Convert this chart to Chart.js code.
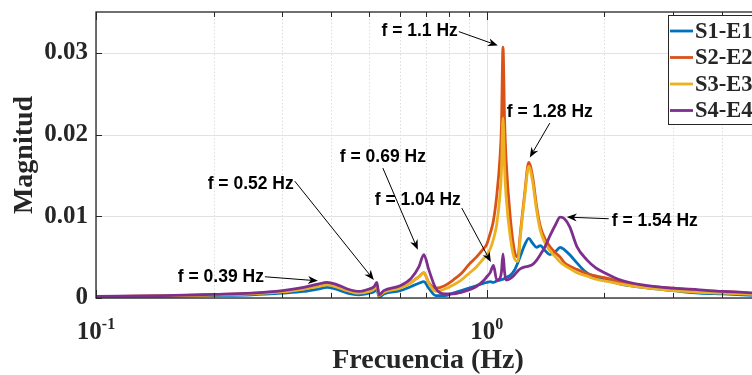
<!DOCTYPE html>
<html>
<head>
<meta charset="utf-8">
<script src="https://cdn.jsdelivr.net/npm/chart.js@4"></script>
<style>
  html, body { margin: 0; padding: 0; background: #fff; overflow: hidden; }
</style>
</head>
<body>
<canvas id="chart" width="770" height="375"></canvas>
<script>
// Frequency axis (Hz) shared by the four responses
const freq = [0.1, 0.15, 0.2, 0.25, 0.3, 0.34, 0.37, 0.39, 0.41, 0.44,
  0.47, 0.5, 0.515, 0.523, 0.53, 0.545, 0.6, 0.64, 0.67, 0.69,
  0.71, 0.74, 0.78, 0.82, 0.86, 0.9, 0.94, 0.98, 1.0, 1.02,
  1.04, 1.06, 1.08, 1.09, 1.1, 1.11, 1.12, 1.15, 1.18, 1.2, 1.22, 1.25,
  1.28, 1.31, 1.34, 1.37, 1.41, 1.45, 1.5, 1.54, 1.58, 1.63,
  1.7, 1.8, 1.9, 2.0, 2.2, 2.5, 3.0, 3.5, 4.0, 5.0];

const s1e1 = [0.00015, 0.0002, 0.0003, 0.0004, 0.0006, 0.0008, 0.0011, 0.0013, 0.0011, 0.0006,
  0.0004, 0.0006, 0.0008, 0.0011, 0.0001, 0.0005, 0.0009, 0.0014, 0.0018, 0.002,
  0.0012, 0.0003, 0.0003, 0.0006, 0.0009, 0.0012, 0.0015, 0.0018, 0.0019, 0.002,
  0.0019, 0.0021, 0.0022, 0.00225, 0.0023, 0.0024, 0.0025, 0.0028, 0.0035, 0.0043, 0.0052, 0.0065,
  0.0073, 0.0067, 0.0062, 0.0064, 0.0058, 0.0053, 0.0057, 0.0062, 0.0059, 0.0053,
  0.0043, 0.0031, 0.0026, 0.0023, 0.0017, 0.0013, 0.0009, 0.0006, 0.0005, 0.0003];

const s2e2 = [0.00018, 0.00026, 0.0004, 0.00055, 0.0008, 0.0011, 0.0015, 0.0017, 0.0015, 0.0009,
  0.0007, 0.0009, 0.0012, 0.0016, 0.0003, 0.0008, 0.0013, 0.0019, 0.0026, 0.0031,
  0.0019, 0.0012, 0.0015, 0.0022, 0.003, 0.0041, 0.005, 0.006, 0.0066, 0.0079,
  0.0095, 0.0125, 0.017, 0.021, 0.0307, 0.022, 0.017, 0.0095, 0.0055, 0.005, 0.0082, 0.0128,
  0.0166, 0.0148, 0.0113, 0.0088, 0.0072, 0.0063, 0.0055, 0.005, 0.0043, 0.0039,
  0.0035, 0.003, 0.0027, 0.0025, 0.002, 0.0015, 0.0012, 0.0009, 0.0008, 0.0005];

const s3e3 = [0.00017, 0.00025, 0.00038, 0.0005, 0.00075, 0.0011, 0.0014, 0.0016, 0.0014, 0.0009,
  0.0006, 0.0008, 0.0011, 0.0015, 0.0003, 0.0007, 0.0012, 0.0019, 0.0026, 0.0031,
  0.0018, 0.0008, 0.0011, 0.0016, 0.0022, 0.003, 0.0038, 0.0048, 0.0053, 0.006,
  0.0072, 0.009, 0.0125, 0.0155, 0.022, 0.016, 0.0125, 0.0072, 0.0047, 0.0045, 0.0078, 0.0124,
  0.0161, 0.0142, 0.0108, 0.0083, 0.0067, 0.0058, 0.005, 0.0044, 0.004, 0.0036,
  0.0031, 0.0027, 0.0023, 0.0021, 0.0017, 0.0013, 0.0009, 0.0007, 0.0006, 0.0004];

const s4e4 = [0.0002, 0.0003, 0.00045, 0.0006, 0.0009, 0.0013, 0.0017, 0.0019, 0.0017, 0.0011,
  0.0008, 0.0011, 0.0014, 0.0019, 0.0004, 0.0009, 0.0015, 0.0024, 0.0038, 0.0053,
  0.0035, 0.0012, 0.0005, 0.0005, 0.0007, 0.001, 0.0014, 0.0021, 0.0026, 0.0031,
  0.004, 0.0022, 0.0024, 0.0032, 0.0054, 0.0032, 0.0022, 0.0024, 0.0029, 0.0033, 0.0036, 0.0038,
  0.0039, 0.0041, 0.0046, 0.0053, 0.0063, 0.0076, 0.009, 0.0099, 0.0097, 0.0087,
  0.0063, 0.0047, 0.0037, 0.0031, 0.0022, 0.0016, 0.0012, 0.001, 0.0008, 0.0006];

const seriesNames = ['S1-E1', 'S2-E2', 'S3-E3', 'S4-E4'];
const seriesColors = ['#0072BD', '#D95319', '#EDB120', '#7E2F8E'];

const yTicks = [0, 0.01, 0.02, 0.03];
const xMajor = [0.1, 1];
const xMinor = [0.2, 0.3, 0.4, 0.5, 0.6, 0.7, 0.8, 0.9, 2, 3, 4, 5];

// Peak callouts: arrow tail and head in data units, text side relative to the tail
const callouts = [
  { text: 'f = 0.39 Hz', tail: [0.2705, 0.0026], head: [0.3697, 0.0021], side: 'left', dy: 0 },
  { text: 'f = 0.52 Hz', tail: [0.3225, 0.0143], head: [0.5140, 0.0022], side: 'left', dy: 3 },
  { text: 'f = 0.69 Hz', tail: [0.5420, 0.0159], head: [0.6660, 0.0059], side: 'above', dy: 0 },
  { text: 'f = 1.04 Hz', tail: [0.8630, 0.0110], head: [1.0240, 0.0044], side: 'left', dy: -8 },
  { text: 'f = 1.1 Hz',  tail: [0.8480, 0.0326], head: [1.0670, 0.0309], side: 'left', dy: 0 },
  { text: 'f = 1.28 Hz', tail: [1.4490, 0.0214], head: [1.2880, 0.0172], side: 'above', dy: 0 },
  { text: 'f = 1.54 Hz', tail: [2.0510, 0.0097], head: [1.6020, 0.0099], side: 'right', dy: 2 }
];

const serif = '"Liberation Serif", "Times New Roman", serif';
const sans = '"Liberation Sans", Arial, sans-serif';
const axisColor = '#262626';

function seg(ctx, x1, y1, x2, y2) {
  ctx.beginPath();
  ctx.moveTo(x1, y1);
  ctx.lineTo(x2, y2);
  ctx.stroke();
}

function arrow(ctx, x1, y1, x2, y2) {
  const ang = Math.atan2(y2 - y1, x2 - x1);
  const L = 10, W = 4, notch = 7;
  const cos = Math.cos(ang), sin = Math.sin(ang);
  seg(ctx, x1, y1, x2 - notch * cos, y2 - notch * sin);
  ctx.beginPath();
  ctx.moveTo(x2, y2);
  ctx.lineTo(x2 - L * cos - W * sin, y2 - L * sin + W * cos);
  ctx.lineTo(x2 - notch * cos, y2 - notch * sin);
  ctx.lineTo(x2 - L * cos + W * sin, y2 - L * sin - W * cos);
  ctx.closePath();
  ctx.fill();
}

const frame = {
  id: 'frame',
  beforeDatasetsDraw(chart) {
    const { ctx, chartArea: a, scales: { x, y } } = chart;
    ctx.save();
    ctx.lineWidth = 1;
    ctx.strokeStyle = '#dcdcdc';
    ctx.setLineDash([1.5, 2]);
    xMinor.forEach(v => {
      const px = Math.round(x.getPixelForValue(v)) + 0.5;
      seg(ctx, px, a.top, px, a.bottom);
    });
    ctx.setLineDash([]);
    ctx.strokeStyle = '#e2e2e2';
    xMajor.forEach(v => {
      const px = Math.round(x.getPixelForValue(v)) + 0.5;
      seg(ctx, px, a.top, px, a.bottom);
    });
    yTicks.forEach(v => {
      const py = Math.round(y.getPixelForValue(v)) + 0.5;
      seg(ctx, a.left, py, a.right, py);
    });
    ctx.restore();
  },
  afterDatasetsDraw(chart) {
    const { ctx, chartArea: a, scales: { x, y } } = chart;
    ctx.save();

    // axes box and inward ticks
    ctx.strokeStyle = axisColor;
    ctx.lineWidth = 1.3;
    ctx.strokeRect(a.left, a.top, a.right - a.left, a.bottom - a.top);
    ctx.lineWidth = 1;
    xMinor.concat(xMajor).forEach(v => {
      const px = Math.round(x.getPixelForValue(v)) + 0.5;
      const len = xMajor.includes(v) ? 8 : 5;
      seg(ctx, px, a.bottom, px, a.bottom - len);
      seg(ctx, px, a.top, px, a.top + len);
    });
    yTicks.forEach(v => {
      const py = Math.round(y.getPixelForValue(v)) + 0.5;
      seg(ctx, a.left, py, a.left + 6, py);
    });

    // decade labels 10^n
    ctx.fillStyle = axisColor;
    ctx.textBaseline = 'alphabetic';
    ctx.textAlign = 'left';
    xMajor.forEach(v => {
      const exp = String(Math.round(Math.log10(v)));
      ctx.font = 'bold 25px ' + serif;
      const wBase = ctx.measureText('10').width;
      ctx.font = 'bold 16px ' + serif;
      const wExp = ctx.measureText(exp).width;
      const left = x.getPixelForValue(v) - (wBase + wExp) / 2;
      ctx.font = 'bold 25px ' + serif;
      ctx.fillText('10', left, a.bottom + 41);
      ctx.font = 'bold 16px ' + serif;
      ctx.fillText(exp, left + wBase, a.bottom + 31);
    });

    // peak callouts
    ctx.fillStyle = '#000';
    ctx.strokeStyle = '#000';
    ctx.lineWidth = 1;
    ctx.font = 'bold 17.5px ' + sans;
    ctx.textBaseline = 'middle';
    callouts.forEach(c => {
      const tx = x.getPixelForValue(c.tail[0]), ty = y.getPixelForValue(c.tail[1]);
      const hx = x.getPixelForValue(c.head[0]), hy = y.getPixelForValue(c.head[1]);
      arrow(ctx, tx, ty, hx, hy);
      if (c.side === 'left') {
        ctx.textAlign = 'right';
        ctx.fillText(c.text, tx - 1, ty + c.dy);
      } else if (c.side === 'right') {
        ctx.textAlign = 'left';
        ctx.fillText(c.text, tx + 3, ty + c.dy);
      } else {
        ctx.textAlign = 'center';
        ctx.fillText(c.text, tx, ty - 11 + c.dy);
      }
    });

    // legend box
    const lx = a.right - 92, ly = a.top + 3, lw = 89, lh = 109;
    ctx.fillStyle = '#fff';
    ctx.fillRect(lx, ly, lw, lh);
    ctx.strokeStyle = axisColor;
    ctx.lineWidth = 1;
    ctx.strokeRect(Math.round(lx) + 0.5, Math.round(ly) + 0.5, lw, lh);
    ctx.font = 'bold 22.5px ' + serif;
    ctx.textAlign = 'left';
    ctx.textBaseline = 'middle';
    chart.data.datasets.slice().sort((p, q) => seriesNames.indexOf(p.label) - seriesNames.indexOf(q.label))
      .forEach((ds, i) => {
        const ry = ly + 16 + i * 26.5;
        ctx.strokeStyle = ds.borderColor;
        ctx.lineWidth = 2.8;
        seg(ctx, lx + 2, ry, lx + 25, ry);
        ctx.fillStyle = axisColor;
        ctx.fillText(ds.label, lx + 27, ry + 1);
      });
    ctx.restore();
  }
};

const values = [s1e1, s2e2, s3e3, s4e4];

new Chart(document.getElementById('chart'), {
  type: 'line',
  data: {
    datasets: values.map((vals, i) => ({
      label: seriesNames[i],
      data: freq.map((f, k) => ({ x: f, y: vals[k] })),
      borderColor: seriesColors[i],
      backgroundColor: seriesColors[i],
      order: values.length - i
    }))
  },
  options: {
    responsive: false,
    animation: false,
    layout: { padding: { top: 12, right: 10, left: 0, bottom: 0 } },
    elements: {
      point: { radius: 0 },
      line: { borderWidth: 2.8, cubicInterpolationMode: 'monotone' }
    },
    plugins: { legend: { display: false }, tooltip: { enabled: false } },
    scales: {
      x: {
        type: 'logarithmic',
        min: 0.1,
        max: 5,
        grid: { display: false },
        border: { display: false },
        ticks: { display: false },
        title: {
          display: true,
          text: 'Frecuencia (Hz)',
          color: axisColor,
          font: { family: serif, size: 28, weight: 'bold', lineHeight: 1 },
          padding: 0
        },
        afterFit(s) { s.height = 77; s.paddingLeft = 0; s.paddingRight = 0; }
      },
      y: {
        min: 0,
        max: 0.035,
        grid: { display: false, drawTicks: false },
        border: { display: false },
        afterBuildTicks(s) { s.ticks = yTicks.map(v => ({ value: v })); },
        ticks: {
          color: axisColor,
          padding: 8,
          font: { family: serif, size: 25, weight: 'bold', lineHeight: 1 },
          callback: v => (v === 0 ? '0' : v.toFixed(2))
        },
        title: {
          display: true,
          text: 'Magnitud',
          color: axisColor,
          font: { family: serif, size: 28, weight: 'bold', lineHeight: 1 },
          padding: { top: 11, bottom: 0 }
        },
        afterFit(s) { s.width = 96; s.paddingTop = 0; s.paddingBottom = 0; }
      }
    }
  },
  plugins: [frame]
});
</script>
</body>
</html>
